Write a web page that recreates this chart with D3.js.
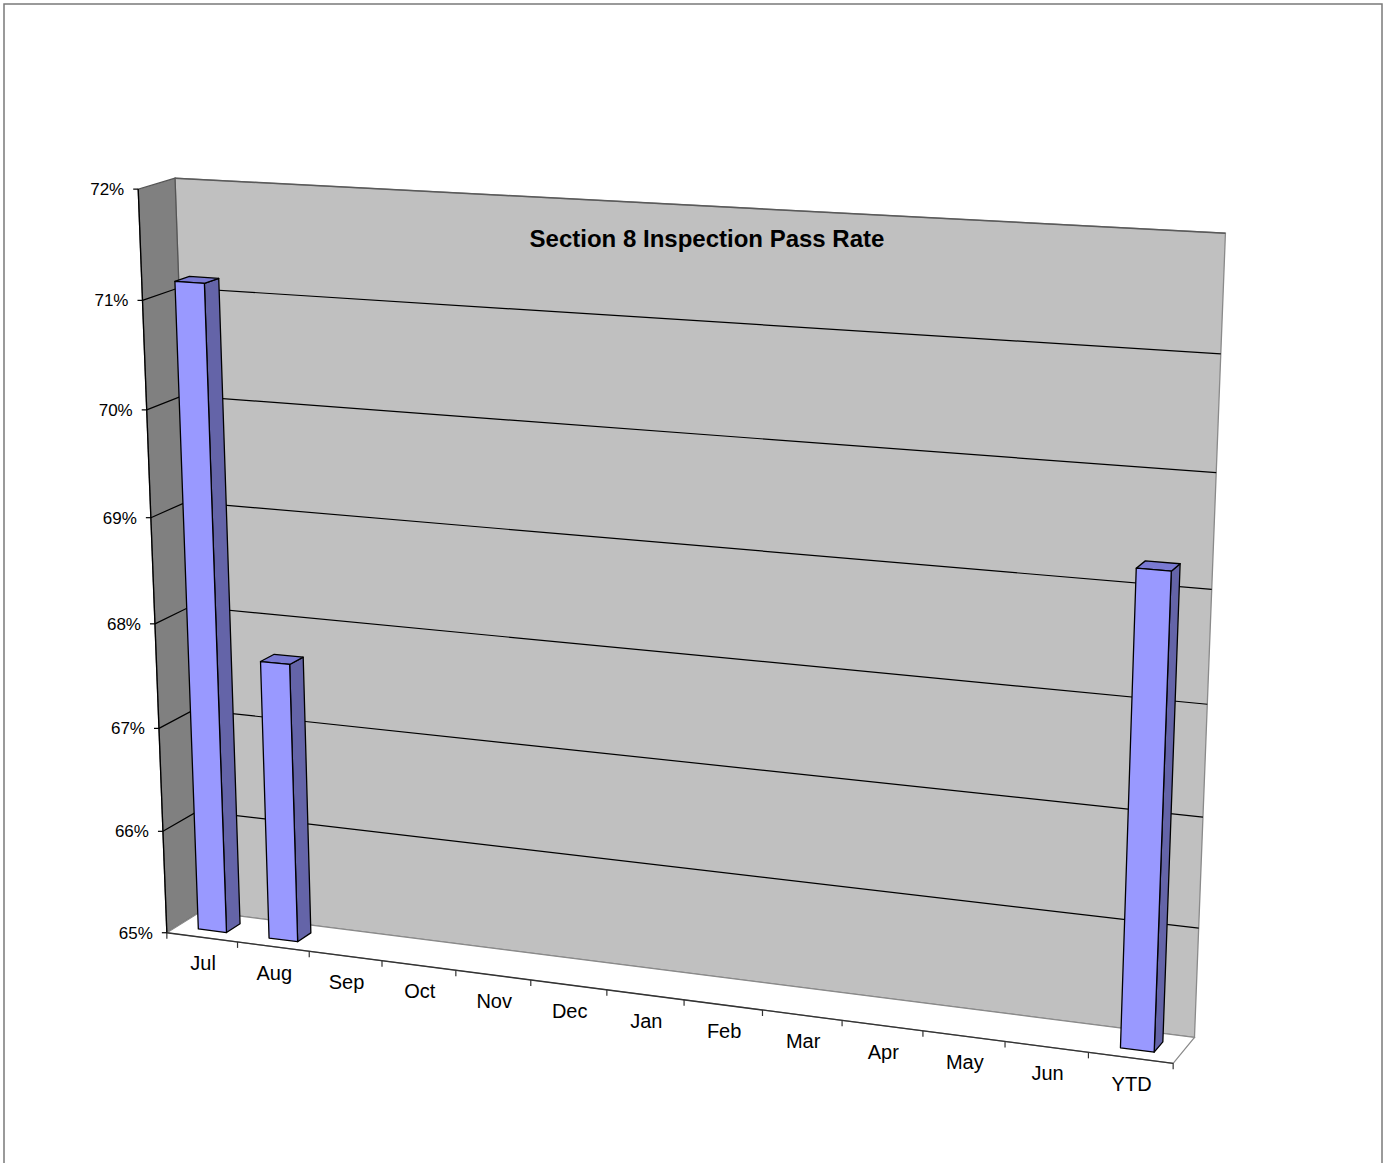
<!DOCTYPE html>
<html>
<head>
<meta charset="utf-8">
<script src="https://cdn.jsdelivr.net/npm/d3@7"></script>
<style>
  html, body { margin: 0; padding: 0; background: #fff; }
  svg { display: block; font-family: "Liberation Sans", Arial, sans-serif; }
</style>
</head>
<body>
<svg id="chart" width="1384" height="1163"></svg>
<script>
// ---- data ----
const categories = ["Jul", "Aug", "Sep", "Oct", "Nov", "Dec", "Jan", "Feb", "Mar", "Apr", "May", "Jun", "YTD"];
const passRate = [71.15, 67.68, null, null, null, null, null, null, null, null, null, null, 69.25];
const valueTicks = [65, 66, 67, 68, 69, 70, 71, 72];
const chartTitle = "Section 8 Inspection Pass Rate";

// ---- 3D view ----
// World space: X across categories [0,1], Y up the value axis [0,1], Z into the page [0,1].
// The camera is a 3x4 perspective matrix fitted to where the box corners sit on screen.
const viewAnchors = [
  { w: [0, 1, 1], s: [177, 178.5] },
  { w: [1, 1, 1], s: [1225, 233] },
  { w: [0, 0, 1], s: [199, 912] },
  { w: [1, 0, 1], s: [1193, 1035] },
  { w: [0, 1, 0], s: [138, 189] },
  { w: [0, 0, 0], s: [168, 933] },
  { w: [1, 0, 0], s: [1173, 1064] },
  { w: [1, 6 / 7, 1], s: [1220, 353] },
  { w: [1, 5 / 7, 1], s: [1216, 473] },
  { w: [1, 4 / 7, 1], s: [1212, 590] },
  { w: [1, 3 / 7, 1], s: [1208, 705] },
  { w: [1, 2 / 7, 1], s: [1204, 818] },
  { w: [1, 1 / 7, 1], s: [1200, 928] },
  { w: [0, 6 / 7, 0], s: [141.5, 300] },
  { w: [0, 5 / 7, 0], s: [146, 410] },
  { w: [0, 4 / 7, 0], s: [150, 518] },
  { w: [0, 3 / 7, 0], s: [155, 624] },
  { w: [0, 2 / 7, 0], s: [159.5, 728] },
  { w: [0, 1 / 7, 0], s: [164, 830] },
  { w: [1 / 13, 0, 0], s: [238, 942] },
  { w: [12 / 13, 0, 0], s: [1088, 1053] }
];

function solveLinear(M, b) {
  const n = b.length;
  const A = M.map((r, i) => r.concat([b[i]]));
  for (let c = 0; c < n; c++) {
    let piv = c;
    for (let r = c + 1; r < n; r++) if (Math.abs(A[r][c]) > Math.abs(A[piv][c])) piv = r;
    [A[c], A[piv]] = [A[piv], A[c]];
    for (let r = 0; r < n; r++) {
      if (r === c) continue;
      const f = A[r][c] / A[c][c];
      for (let k = c; k <= n; k++) A[r][k] -= f * A[c][k];
    }
  }
  return A.map((r, i) => r[n] / r[i]);
}

function fitCamera(anchors) {
  const S = 1000;
  const rows = [], rhs = [];
  anchors.forEach(({ w: [X, Y, Z], s: [u0, v0] }) => {
    const u = u0 / S, v = v0 / S;
    rows.push([X, Y, Z, 1, 0, 0, 0, 0, -u * X, -u * Y, -u * Z]); rhs.push(u);
    rows.push([0, 0, 0, 0, X, Y, Z, 1, -v * X, -v * Y, -v * Z]); rhs.push(v);
  });
  const N = 11;
  const AtA = Array.from({ length: N }, () => new Array(N).fill(0));
  const Atb = new Array(N).fill(0);
  rows.forEach((r, i) => {
    for (let a = 0; a < N; a++) {
      Atb[a] += r[a] * rhs[i];
      for (let c = 0; c < N; c++) AtA[a][c] += r[a] * r[c];
    }
  });
  const p = solveLinear(AtA, Atb);
  return (X, Y, Z) => {
    const w = p[8] * X + p[9] * Y + p[10] * Z + 1;
    return [S * (p[0] * X + p[1] * Y + p[2] * Z + p[3]) / w,
            S * (p[4] * X + p[5] * Y + p[6] * Z + p[7]) / w];
  };
}
const project = fitCamera(viewAnchors);

// ---- scales ----
const x = d3.scaleBand().domain(categories).range([0, 1]).paddingInner(0.6).paddingOuter(0.3);
const xSlot = d3.scaleBand().domain(categories).range([0, 1]);
const y = d3.scaleLinear().domain([65, 72]).range([0, 1]);
const zFront = 0.3, zBack = 0.7;

const svg = d3.select("#chart");
const poly = pts => "M" + pts.map(p => p.join(",")).join("L") + "Z";
const seg = (a, b) => "M" + a.join(",") + "L" + b.join(",");

// outer chart border
svg.append("rect").attr("x", 4).attr("y", 4).attr("width", 1378).attr("height", 1175)
  .attr("fill", "none").attr("stroke", "#7a7a7a").attr("stroke-width", 1.5);

// walls and floor
svg.append("path")
  .attr("d", poly([project(0, 0, 1), project(1, 0, 1), project(1, 1, 1), project(0, 1, 1)]))
  .attr("fill", "#c0c0c0").attr("stroke", "#8a8a8a").attr("stroke-width", 1.3);
svg.append("path")
  .attr("d", poly([project(0, 0, 0), project(0, 0, 1), project(0, 1, 1), project(0, 1, 0)]))
  .attr("fill", "#808080").attr("stroke", "#555").attr("stroke-width", 1.3);
svg.append("path")
  .attr("d", poly([project(0, 0, 0), project(1, 0, 0), project(1, 0, 1), project(0, 0, 1)]))
  .attr("fill", "#ffffff").attr("stroke", "#8a8a8a").attr("stroke-width", 1.2);
svg.append("path").attr("d", seg(project(0, 1, 1), project(1, 1, 1)))
  .attr("stroke", "#5a5a5a").attr("stroke-width", 1.5).attr("fill", "none");

// gridlines on side wall and back wall
const grid = svg.append("g").attr("stroke", "#000").attr("stroke-width", 1.2).attr("fill", "none");
valueTicks.filter(v => v > 65 && v < 72).forEach(v => {
  const yy = y(v);
  grid.append("path").attr("d", "M" + project(0, yy, 0).join(",") + "L" + project(0, yy, 1).join(",") + "L" + project(1, yy, 1).join(","));
});

// value axis
svg.append("path").attr("d", seg(project(0, 0, 0), project(0, 1, 0)))
  .attr("stroke", "#000").attr("stroke-width", 1.3);
const yAxis = svg.append("g");
valueTicks.forEach(v => {
  const [px, py] = project(0, y(v), 0);
  yAxis.append("path").attr("d", `M${px - 5},${py}L${px},${py}`).attr("stroke", "#000").attr("stroke-width", 1.2);
  yAxis.append("text").attr("x", px - 14).attr("y", py).attr("dy", "0.35em")
    .attr("text-anchor", "end").attr("font-size", 17).attr("fill", "#000").text(v + "%");
});

// category axis
svg.append("path").attr("d", seg(project(0, 0, 0), project(1, 0, 0)))
  .attr("stroke", "#333").attr("stroke-width", 1.3);
const xAxis = svg.append("g");
d3.range(categories.length + 1).forEach(k => {
  const [px, py] = project(k / categories.length, 0, 0);
  xAxis.append("path").attr("d", `M${px},${py}L${px},${py + 6}`).attr("stroke", "#333").attr("stroke-width", 1.2);
});
categories.forEach(c => {
  const [px, py] = project(xSlot(c) + xSlot.bandwidth() / 2, 0, 0);
  xAxis.append("text").attr("x", px + 1).attr("y", py + 26).attr("dy", "0.35em")
    .attr("text-anchor", "middle").attr("font-size", 20).attr("fill", "#000").text(c);
});

// bars
const bars = svg.append("g").attr("stroke", "#000").attr("stroke-width", 1.3).attr("stroke-linejoin", "round");
categories.forEach((c, i) => {
  const v = passRate[i];
  if (v == null) return;
  const x0 = x(c), x1 = x(c) + x.bandwidth();
  const y0 = y(65), y1 = y(v);
  const g = bars.append("g");
  g.append("path").attr("fill", "#6464a8")
    .attr("d", poly([project(x1, y0, zFront), project(x1, y0, zBack), project(x1, y1, zBack), project(x1, y1, zFront)]));
  g.append("path").attr("fill", "#7a7ad2")
    .attr("d", poly([project(x0, y1, zFront), project(x1, y1, zFront), project(x1, y1, zBack), project(x0, y1, zBack)]));
  g.append("path").attr("fill", "#9999ff")
    .attr("d", poly([project(x0, y0, zFront), project(x1, y0, zFront), project(x1, y1, zFront), project(x0, y1, zFront)]));
});

// title
svg.append("text").attr("x", 707).attr("y", 247).attr("text-anchor", "middle")
  .attr("font-size", 24).attr("font-weight", "bold").attr("fill", "#000").text(chartTitle);
</script>
</body>
</html>
